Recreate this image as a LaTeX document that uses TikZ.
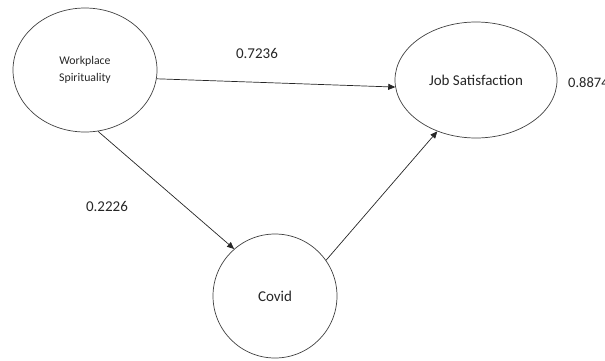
\documentclass[tikz,border=0pt]{standalone}
\usepackage{fontspec}
\setmainfont{Carlito}
\usetikzlibrary{arrows.meta,shapes.geometric}
\begin{document}
\begin{tikzpicture}[x=1pt,y=-1pt,
  latent/.style={draw=black!75, line width=0.7pt, ellipse, inner sep=0pt, text=black!85},
  path/.style={draw=black!85, line width=0.7pt, -{Triangle[length=7pt,width=6pt]}},
  coef/.style={font=\fontsize{15}{17}\selectfont, text=black!85}]
\useasboundingbox (0,0) rectangle (605,360);
\node[latent, minimum width=144pt, minimum height=124pt, font=\fontsize{11.8}{17}\selectfont, align=center] (ws) at (85,70) {Workplace\\Spirituality};
\node[latent, minimum width=162pt, minimum height=116pt, font=\fontsize{15}{17}\selectfont] (js) at (476,80) {Job Satisfaction};
\node[latent, circle, minimum size=124pt, font=\fontsize{15}{17}\selectfont] (cv) at (275,296) {Covid};
\draw[path] (ws.-7) -- (js.-175);
\draw[path] (ws.-78) -- (cv.131);
\draw[path] (cv.35) -- (js.-127);
\node[coef] (c1) at (257,53) {0.7236};
\node[coef] (c2) at (107,206) {0.2226};
\node[coef, anchor=west, inner sep=0pt, font=\fontsize{14.5}{17}\selectfont] (c3) at (568,83) {0.8874};
\end{tikzpicture}
\end{document}
